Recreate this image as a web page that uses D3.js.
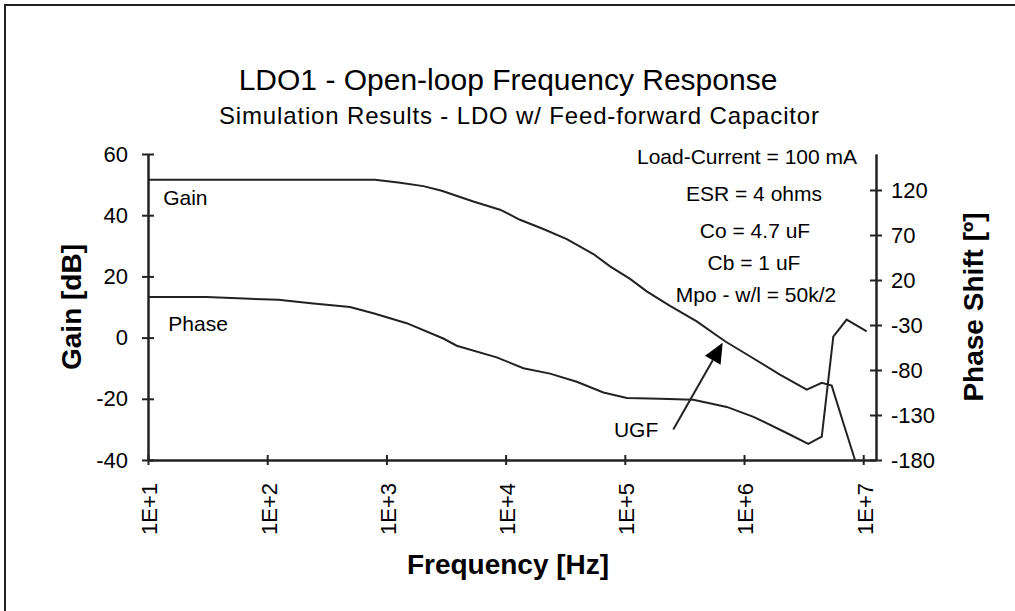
<!DOCTYPE html>
<html lang="en">
<head>
<meta charset="UTF-8">
<title>LDO1 - Open-loop Frequency Response</title>
<script src="https://cdnjs.cloudflare.com/ajax/libs/d3/7.8.5/d3.min.js"></script>
<style>
  body { margin: 0; background: #fff; }
  svg { display: block; font-family: 'Liberation Sans', Arial, sans-serif; }
  .axis path, .axis line { stroke: #222; stroke-width: 2; }
  .axis text { fill: #000; font-size: 22px; font-family: 'Liberation Sans', Arial, sans-serif; }
  .curve { fill: none; stroke: #222; stroke-width: 2; }
  .note { font-size: 21px; fill: #000; }
  .axis-title { font-size: 28px; font-weight: bold; fill: #000; }
</style>
</head>
<body>
<svg id="chart"></svg>
<script>
// tick values
const freqTicks = [1e1, 1e2, 1e3, 1e4, 1e5, 1e6, 1e7]
const gainTicks = [-40, -20, 0, 20, 40, 60]
const phaseTicks = [-180, -130, -80, -30, 20, 70, 120]

// gain curve (Hz, dB)
const gainFreq = [10, 800, 1260, 2040, 2910, 5360, 8980, 13200, 20700, 32600, 54500, 75200,
    110700, 152700, 239500, 401000, 693000, 1.12e6, 2.0e6, 3.36e6, 4.49e6, 5.44e6, 6.81e6, 8.53e6]
const gainDb = [51.6, 51.6, 50.7, 49.5, 48.0, 44.5, 41.8, 38.5, 35.5, 32.2, 27.3, 23.3,
    19.2, 15.1, 10.4, 5.3, -1.2, -6.1, -12.1, -17.0, -14.8, -15.7, -27.9, -40]

// phase curve (Hz, degrees)
const phaseFreq = [10, 31, 124, 244, 495, 777, 1480, 3000, 3890, 8420, 14100, 23600, 39500,
    66100, 104000, 197000, 376000, 716000, 1.2e6, 2.28e6, 3.46e6, 4.49e6, 5.61e6, 7.26e6, 1.07e7]
const phaseDeg = [1, 1, -2, -6, -10, -17, -28, -45, -53, -66, -78, -84, -93,
    -105, -111, -112, -113, -121, -132, -150, -162, -154, -43, -24, -37]

// text in the chart
const notes = ['Load-Current = 100 mA', 'ESR = 4 ohms', 'Co = 4.7 uF', 'Cb = 1 uF', 'Mpo - w/l = 50k/2']
const ugf = { label: 'UGF', textAt: [81000, -32.5], from: [255000, -30], to: [662000, -1.7] }

const W = 1015, H = 611
const plot = { left: 148, right: 876, top: 154, bottom: 460 }
const noteX = [747, 754, 755, 754, 756], noteY = [164, 201, 238, 270, 302]

const svg = d3.select('#chart').attr('width', W).attr('height', H)

const x = d3.scaleLog().domain([10, 1.28e7]).range([plot.left, plot.right])
const yGain = d3.scaleLinear().domain([-40, 60]).range([plot.bottom, plot.top])
const yPhase = d3.scaleLinear().domain([-180, 160]).range([plot.bottom, plot.top])

// plain hyphen for negatives, like the original
const num = d => String(d)

// frame (top and left edge only)
svg.append('path')
    .attr('d', 'M5,' + H + 'V5H' + W)
    .attr('fill', 'none')
    .attr('stroke', '#222')
    .attr('stroke-width', 2)

// axes, ticks cross the line so draw both sides
const gLeft = svg.append('g').attr('class', 'axis')
    .attr('transform', 'translate(' + plot.left + ',0)')
gLeft.call(d3.axisLeft(yGain).tickValues(gainTicks).tickSize(6).tickSizeOuter(0).tickPadding(14).tickFormat(num))
gLeft.append('g').call(d3.axisRight(yGain).tickValues(gainTicks).tickSize(6).tickSizeOuter(0).tickFormat(''))

const gRight = svg.append('g').attr('class', 'axis')
    .attr('transform', 'translate(' + plot.right + ',0)')
gRight.call(d3.axisRight(yPhase).tickValues(phaseTicks).tickSize(6).tickSizeOuter(0).tickPadding(9).tickFormat(num))
gRight.append('g').call(d3.axisLeft(yPhase).tickValues(phaseTicks).tickSize(6).tickSizeOuter(0).tickFormat(''))

const gBot = svg.append('g').attr('class', 'axis')
    .attr('transform', 'translate(0,' + plot.bottom + ')')
gBot.call(d3.axisBottom(x).tickValues(freqTicks).tickSize(5).tickSizeOuter(0)
    .tickFormat(d => '1E+' + Math.round(Math.log10(d))))
gBot.append('g').call(d3.axisTop(x).tickValues(freqTicks).tickSize(5).tickSizeOuter(0).tickFormat(''))
gBot.selectAll('.tick text')
    .attr('transform', 'rotate(-90)')
    .attr('x', -23)
    .attr('y', 0)
    .attr('dy', '0.4em')
    .attr('text-anchor', 'end')

// curves
const gainLine = d3.line().x(d => x(d[0])).y(d => yGain(d[1]))
const phaseLine = d3.line().x(d => x(d[0])).y(d => yPhase(d[1]))

svg.append('path').attr('class', 'curve')
    .attr('d', gainLine(gainFreq.map((f, i) => [f, gainDb[i]])))
svg.append('path').attr('class', 'curve')
    .attr('d', phaseLine(phaseFreq.map((f, i) => [f, phaseDeg[i]])))

// curve labels
svg.append('text').attr('class', 'note')
    .attr('x', x(13.4)).attr('y', yGain(43.3)).text('Gain')
svg.append('text').attr('class', 'note')
    .attr('x', x(14.8)).attr('y', yPhase(-36.7)).text('Phase')

// UGF arrow
const x0 = x(ugf.from[0]), y0 = yGain(ugf.from[1])
const x1 = x(ugf.to[0]), y1 = yGain(ugf.to[1])
const len = Math.hypot(x1 - x0, y1 - y0)
const ux = (x1 - x0) / len, uy = (y1 - y0) / len
const headLen = 20, headW = 9
const bx = x1 - ux * headLen, by = y1 - uy * headLen
svg.append('line')
    .attr('x1', x0).attr('y1', y0).attr('x2', bx).attr('y2', by)
    .attr('stroke', '#222').attr('stroke-width', 2)
svg.append('path')
    .attr('d', 'M' + x1 + ',' + y1 +
        'L' + (bx - uy * headW) + ',' + (by + ux * headW) +
        'L' + (bx + uy * headW) + ',' + (by - ux * headW) + 'Z')
    .attr('fill', '#000')
svg.append('text').attr('class', 'note')
    .attr('x', x(ugf.textAt[0])).attr('y', yGain(ugf.textAt[1])).text(ugf.label)

// parameter notes
svg.selectAll('.param')
    .data(notes)
    .enter()
    .append('text')
    .attr('class', 'note param')
    .attr('x', (d, i) => noteX[i])
    .attr('y', (d, i) => noteY[i])
    .attr('text-anchor', 'middle')
    .text(d => d)

// titles
svg.append('text')
    .attr('x', 508).attr('y', 90)
    .attr('text-anchor', 'middle')
    .style('font-size', '30px')
    .text('LDO1 - Open-loop Frequency Response')
svg.append('text')
    .attr('x', 519).attr('y', 124)
    .attr('text-anchor', 'middle')
    .attr('textLength', 600)
    .attr('lengthAdjust', 'spacing')
    .style('font-size', '24px')
    .text('Simulation Results - LDO w/ Feed-forward Capacitor')

svg.append('text').attr('class', 'axis-title')
    .attr('transform', 'translate(81,307) rotate(-90)')
    .attr('text-anchor', 'middle')
    .text('Gain [dB]')
svg.append('text').attr('class', 'axis-title')
    .attr('transform', 'translate(983,307) rotate(-90)')
    .attr('text-anchor', 'middle')
    .text('Phase Shift [º]')
svg.append('text').attr('class', 'axis-title')
    .attr('x', 508).attr('y', 574)
    .attr('text-anchor', 'middle')
    .text('Frequency [Hz]')
</script>
</body>
</html>
